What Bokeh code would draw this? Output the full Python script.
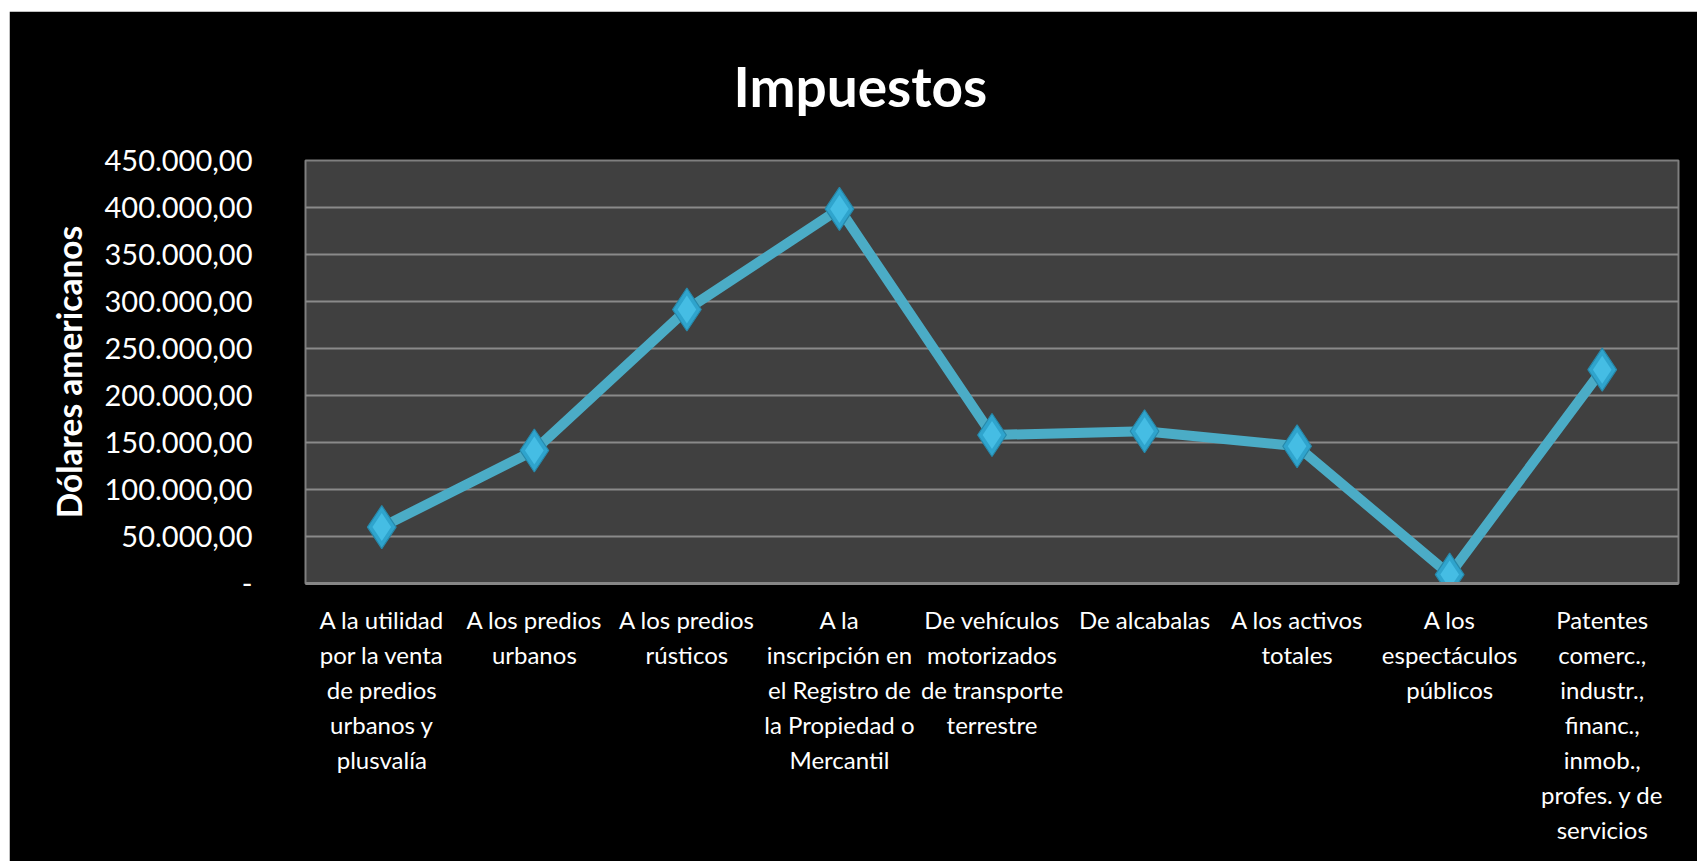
from bokeh.plotting import figure
from bokeh.models import FactorRange, Range1d, FixedTicker, Title
from bokeh.embed import file_html
from bokeh.resources import INLINE

categories = [
    "A la utilidad\npor la venta\nde predios\nurbanos y\nplusvalía",
    "A los predios\nurbanos",
    "A los predios\nrústicos",
    "A la\ninscripción en\nel Registro de\nla Propiedad o\nMercantil",
    "De vehículos\nmotorizados\nde transporte\nterrestre",
    "De alcabalas",
    "A los activos\ntotales",
    "A los\nespectáculos\npúblicos",
    "Patentes\ncomerc.,\nindustr.,\nfinanc.,\ninmob.,\nprofes. y de\nservicios",
]
values = [60000, 141500, 291500, 398500, 158000, 162000, 146000, 9500, 227500]
y_ticks = [0, 50000, 100000, 150000, 200000, 250000, 300000, 350000, 400000, 450000]
y_tick_labels = ["-", "50.000,00", "100.000,00", "150.000,00", "200.000,00",
                 "250.000,00", "300.000,00", "350.000,00", "400.000,00", "450.000,00"]
title_text = "Impuestos"
y_title = "Dólares americanos"

FONT = "Lato"

p = figure(
    x_range=FactorRange(*categories, range_padding=0),
    y_range=Range1d(0, 450000),
    width=1688, height=850,
    output_backend="svg", toolbar_location=None,
    min_border_left=296, min_border_top=149, min_border_right=19, min_border_bottom=278,
)
p.margin = (11, 0, 0, 9)
p.background_fill_color = "#404040"
p.border_fill_color = "#000000"
p.outline_line_color = "#7f7f7f"
p.outline_line_width = 2

t = Title(text=title_text, align="left", vertical_align="top", text_font=FONT,
          text_font_size="55px", text_font_style="bold", text_color="#ffffff",
          offset=428, standoff=79)
p.add_layout(t, "above")

# y axis
p.yaxis.ticker = FixedTicker(ticks=y_ticks)
p.yaxis.major_label_overrides = {k: v for k, v in zip(y_ticks, y_tick_labels)}
p.yaxis.major_label_text_font = FONT
p.yaxis.major_label_text_font_size = "29px"
p.yaxis.major_label_text_color = "#ffffff"
p.yaxis.major_label_standoff = 47
p.yaxis.major_tick_line_color = None
p.yaxis.minor_tick_line_color = None
p.yaxis.axis_line_color = None
p.yaxis.axis_label = y_title
p.yaxis.axis_label_text_font = FONT
p.yaxis.axis_label_text_font_size = "33.5px"
p.yaxis.axis_label_text_font_style = "bold"
p.yaxis.axis_label_text_color = "#ffffff"
p.yaxis.axis_label_standoff = 13

# x axis
p.xaxis.major_label_text_font = FONT
p.xaxis.major_label_text_font_size = "24px"
p.xaxis.major_label_text_color = "#ffffff"
p.xaxis.major_label_text_line_height = 1.21
p.xaxis.major_label_standoff = 15
p.xaxis.major_tick_line_color = None
p.xaxis.axis_line_color = "#868686"
p.xaxis.axis_line_width = 3

p.xgrid.grid_line_color = None
p.ygrid.ticker = FixedTicker(ticks=y_ticks)
p.ygrid.grid_line_color = "#8a8a8a"
p.ygrid.grid_line_width = 2

p.line(categories, values, line_color="#4bacc6", line_width=10)
p.scatter(categories, values, marker="diamond", size=43,
          fill_color="#2fa4cd", line_color="#2689ab", line_width=1.2)
p.scatter(categories, values, marker="diamond", size=28,
          fill_color="#45bde4", line_color=None)

open("out.html", "w").write(file_html(p, INLINE))
